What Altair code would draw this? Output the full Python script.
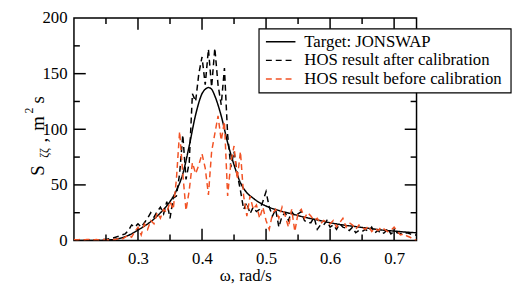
import altair as alt
import pandas as pd

# ---------------- data ----------------
target_w = [0.20, 0.22, 0.24, 0.25, 0.26, 0.27, 0.28, 0.29, 0.30, 0.31, 0.32, 0.33,
            0.34, 0.35, 0.36, 0.37, 0.38, 0.39, 0.40, 0.405, 0.41, 0.415, 0.42, 0.43,
            0.44, 0.45, 0.46, 0.47, 0.48, 0.49, 0.50, 0.52, 0.54, 0.56, 0.58, 0.60,
            0.62, 0.64, 0.66, 0.68, 0.70, 0.72, 0.735]
target_s = [0, 0, 0.1, 0.3, 0.8, 1.8, 3.5, 6, 9.5, 13, 17, 22,
            28, 35, 45, 60, 85, 113, 132, 136, 137.5, 136, 130, 112,
            88, 68, 52, 43, 38, 34, 31, 27, 24, 21, 18.5, 16,
            14, 12.5, 11, 9.5, 8.5, 7.5, 7]

hos_w = [0.200, 0.205, 0.210, 0.215, 0.220, 0.225, 0.230, 0.235, 0.240, 0.245,
         0.250, 0.255, 0.260, 0.265, 0.270, 0.275, 0.280, 0.285, 0.290, 0.295,
         0.300, 0.305, 0.310, 0.315, 0.320, 0.325, 0.330, 0.335, 0.340, 0.345,
         0.350, 0.355, 0.360, 0.365, 0.370, 0.375, 0.380, 0.385, 0.390, 0.395,
         0.400, 0.405, 0.410, 0.415, 0.420, 0.425, 0.430, 0.435, 0.440, 0.445,
         0.450, 0.455, 0.460, 0.465, 0.470, 0.475, 0.480, 0.485, 0.490, 0.495,
         0.500, 0.505, 0.510, 0.515, 0.520, 0.525, 0.530, 0.535, 0.540, 0.545,
         0.550, 0.555, 0.560, 0.565, 0.570, 0.575, 0.580, 0.585, 0.590, 0.595,
         0.600, 0.605, 0.610, 0.615, 0.620, 0.625, 0.630, 0.635, 0.640, 0.645,
         0.650, 0.655, 0.660, 0.665, 0.670, 0.675, 0.680, 0.685, 0.690, 0.695,
         0.700, 0.705, 0.710, 0.715, 0.720, 0.725, 0.730, 0.735]

after_s = [0.5, 0.3, 0.2, 0.4, 0.3, 0.5, 0.6, 0.8, 0.5, 1.0,
           1.0, 1.5, 2, 3, 4, 5, 6, 9, 14, 12,
           15, 12, 16, 20, 25, 21, 26, 30, 24, 35,
           20, 38, 40, 60, 95, 55, 70, 132, 125, 150,
           165, 140, 172, 138, 173, 140, 122, 155, 95, 66,
           80, 60, 45, 28, 34, 24, 30, 26, 28, 35,
           44, 30, 22, 28, 12, 22, 25, 18, 26, 22,
           24, 26, 18, 16, 16, 21, 10, 14, 14, 18,
           12, 14, 10, 15, 12, 11, 9, 12, 7, 9,
           8, 10, 8, 12, 7, 9, 6, 7, 11, 6,
           8, 7, 6, 6, 7, 6, 5, 5]

before_s = [1, 0.5, 1, 0.5, 1, 1, 0.5, 1, 0.5, 1,
            1, 0.5, 1, 1, 2, 1, 3, 5, 3, 8,
            12, 5, 15, 10, 18, 15, 25, 20, 28, 25,
            35, 28, 55, 98, 60, 27, 45, 70, 60, 68,
            78, 65, 41, 80, 96, 112, 90, 107, 40, 70,
            85, 55, 80, 40, 22, 40, 28, 32, 20, 30,
            18, 10, 24, 28, 20, 30, 22, 12, 28, 8,
            25, 28, 20, 25, 22, 18, 20, 15, 18, 16,
            15, 18, 12, 16, 20, 12, 16, 14, 10, 14,
            12, 10, 13, 8, 11, 9, 12, 10, 8, 9,
            12, 8, 5, 6, 4, 3, 1, 0.5]

series_names = ["Target: JONSWAP", "HOS result after calibration",
                "HOS result before calibration"]
series_colors = ["#000000", "#000000", "#f25224"]
series_dash = [[1, 0], [6, 4], [6, 4]]

x_major = [0.3, 0.4, 0.5, 0.6, 0.7]
x_minor = [0.25, 0.35, 0.45, 0.55, 0.65]
y_major = [0, 50, 100, 150, 200]
y_minor = [25, 75, 125, 175]

# ---------------- build tables ----------------
rows = []
for w, s in zip(target_w, target_s):
    rows.append({"w": w, "s": s, "series": series_names[0], "order": 0})
for w, s in zip(hos_w, after_s):
    rows.append({"w": w, "s": s, "series": series_names[1], "order": 1})
for w, s in zip(hos_w, before_s):
    rows.append({"w": w, "s": s, "series": series_names[2], "order": 2})
df = pd.DataFrame(rows)

W, H = 348, 226
FONT = "Liberation Serif"

xscale = alt.Scale(domain=[0.2, 0.735], nice=False, zero=False)
yscale = alt.Scale(domain=[0, 200], nice=False)

xaxis = alt.Axis(values=x_major, format=".1f", ticks=False, domain=False, grid=False,
                 title="ω, rad/s", labelFont=FONT, labelFontSize=17, titleFont=FONT,
                 titleFontSize=17, titleFontWeight="normal", labelPadding=10,
                 titlePadding=2, labelColor="black", titleColor="black")
yaxis = alt.Axis(values=y_major, ticks=False, domain=False, grid=False, title=None,
                 labelFont=FONT, labelFontSize=17, labelPadding=7, labelColor="black")

color = alt.Color("series:N", scale=alt.Scale(domain=series_names, range=series_colors),
                  legend=None)
dash = alt.StrokeDash("series:N", scale=alt.Scale(domain=series_names, range=series_dash),
                      legend=None)

base = alt.Chart(df)
target_line = base.transform_filter(alt.datum.order == 0).mark_line(
    strokeWidth=1.5, interpolate="monotone", clip=True).encode(
    x=alt.X("w:Q", scale=xscale, axis=xaxis),
    y=alt.Y("s:Q", scale=yscale, axis=yaxis),
    color=color, strokeDash=dash)
after_line = base.transform_filter(alt.datum.order == 1).mark_line(
    strokeWidth=1.5, clip=True).encode(
    x=alt.X("w:Q", scale=xscale), y=alt.Y("s:Q", scale=yscale),
    color=color, strokeDash=dash)
before_line = base.transform_filter(alt.datum.order == 2).mark_line(
    strokeWidth=1.5, clip=True).encode(
    x=alt.X("w:Q", scale=xscale), y=alt.Y("s:Q", scale=yscale),
    color=color, strokeDash=dash)

# inside ticks (Grace style) on all four sides
def xticks(vals, length):
    c = alt.Chart(pd.DataFrame({"t": vals}))
    bot = c.mark_rule(color="black", strokeWidth=1.5).encode(
        x=alt.X("t:Q", scale=xscale), y=alt.value(H), y2=alt.value(H - length))
    top = c.mark_rule(color="black", strokeWidth=1.5).encode(
        x=alt.X("t:Q", scale=xscale), y=alt.value(0), y2=alt.value(length))
    return [bot, top]

def yticks(vals, length):
    c = alt.Chart(pd.DataFrame({"t": vals}))
    left = c.mark_rule(color="black", strokeWidth=1.5).encode(
        y=alt.Y("t:Q", scale=yscale), x=alt.value(0), x2=alt.value(length))
    right = c.mark_rule(color="black", strokeWidth=1.5).encode(
        y=alt.Y("t:Q", scale=yscale), x=alt.value(W), x2=alt.value(W - length))
    return [left, right]

tick_layers = (xticks(x_major, 12) + xticks(x_minor, 6) +
               yticks(y_major[1:-1], 12) + yticks(y_minor, 6))

# ---------------- legend box (drawn like the Grace legend) ----------------
LX0, LX1, LY0, LY1 = 188, 444, 11, 76
legend_box = alt.Chart(pd.DataFrame({"a": [0]})).mark_rect(
    fill="white", stroke="black", strokeWidth=1.2).encode(
    x=alt.value(LX0), x2=alt.value(LX1), y=alt.value(LY0), y2=alt.value(LY1))
legend_layers = [legend_box]
row_y = [24, 43, 62]
for name, col, dsh, ry in zip(series_names, series_colors, series_dash, row_y):
    d = pd.DataFrame({"name": [name]})
    legend_layers.append(alt.Chart(d).mark_rule(
        color=col, strokeWidth=1.5, strokeDash=dsh).encode(
        x=alt.value(LX0 + 7), x2=alt.value(LX0 + 37), y=alt.value(ry)))
    legend_layers.append(alt.Chart(d).mark_text(
        font=FONT, fontSize=17, color="black", align="left", baseline="middle").encode(
        text="name:N", x=alt.value(LX0 + 46), y=alt.value(ry)))

# ---------------- y-axis title with sub/superscripts ----------------
def txt(s, x, y, size):
    return alt.Chart(pd.DataFrame({"t": [s]})).mark_text(
        angle=270, font=FONT, fontSize=size, color="black", align="center",
        baseline="middle").encode(text="t:N", x=alt.value(x), y=alt.value(y))

title_parts = [
    txt("S", -36, 155, 19),
    txt("ζζ", -30, 137, 12),
    txt(",", -33, 124, 19),
    txt("m", -36, 107, 19),
    txt("2", -46, 94, 12),
    txt("s", -36, 83, 19),
]

chart = alt.layer(target_line, after_line, before_line, *tick_layers,
                  *legend_layers, *title_parts).properties(
    width=W, height=H,
    autosize=alt.AutoSizeParams(type="none"),
    padding={"left": 67, "top": 8, "right": 98, "bottom": 44},
).configure(background="white", font=FONT).configure_view(
    stroke="black", strokeWidth=1.5)

chart.save("out.html", embed_options={"renderer": "svg", "actions": False})
